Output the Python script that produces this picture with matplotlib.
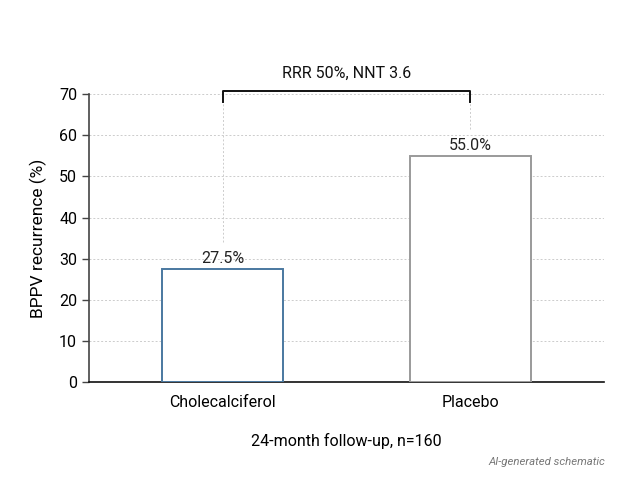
import matplotlib
matplotlib.use("Agg")
from matplotlib import pyplot as plt

plt.rcParams["font.family"] = ["Roboto", "DejaVu Sans"]

groups = ["Cholecalciferol", "Placebo"]
recurrence = [27.5, 55.0]
labels = ["27.5%", "55.0%"]
edge_colors = ["#4a78a0", "#9a9a9a"]
y_ticks = [0, 10, 20, 30, 40, 50, 60, 70]
bracket_text = "RRR 50%, NNT 3.6"
x_title = "24-month follow-up, n=160"
y_title = "BPPV recurrence (%)"

fig = plt.figure(figsize=(6.4, 4.8), dpi=100)
ax = fig.add_axes([0.139, 0.204, 0.805, 0.600])

x = list(range(len(groups)))
ax.bar(x, recurrence, width=0.49, facecolor="white",
       edgecolor=edge_colors, linewidth=1.4, zorder=3)

for xi, val, lab in zip(x, recurrence, labels):
    ax.text(xi, val + 0.7, lab, ha="center", va="bottom", fontsize=11.5, color="#222222")
    ax.plot([xi, xi], [val + 6.5, 68], color="#cccccc", linestyle=(0, (2, 2)),
            linewidth=0.7, zorder=1)

# comparison bracket
ax.plot([x[0], x[0], x[1], x[1]], [68, 70.7, 70.7, 68], color="#111111",
        linewidth=1.4, clip_on=False, zorder=4)
ax.text(0.5, 73.2, bracket_text, ha="center", va="bottom", fontsize=11.5, color="#111111")

ax.set_xlim(-0.54, 1.54)
ax.set_ylim(0, 70)
ax.set_yticks(y_ticks)
ax.set_xticks(x)
ax.set_xticklabels(groups, fontsize=11.5)
ax.tick_params(axis="y", labelsize=11.5, length=5, width=1, color="#444444")
ax.tick_params(axis="x", length=0, pad=9)
ax.set_ylabel(y_title, fontsize=12.5, labelpad=9)
ax.set_xlabel(x_title, fontsize=11.5, labelpad=17)

ax.yaxis.grid(True, color="#cccccc", linestyle=(0, (2, 2)), linewidth=0.7)
ax.set_axisbelow(True)
for s in ["top", "right"]:
    ax.spines[s].set_visible(False)
ax.spines["left"].set_color("#444444")
ax.spines["left"].set_linewidth(1.2)
ax.spines["bottom"].set_color("#111111")
ax.spines["bottom"].set_linewidth(1.2)

fig.text(0.945, 0.027, "AI-generated schematic", ha="right", va="bottom",
         fontsize=8.2, style="italic", color="#777777")

fig.savefig("out.png", dpi=100)
